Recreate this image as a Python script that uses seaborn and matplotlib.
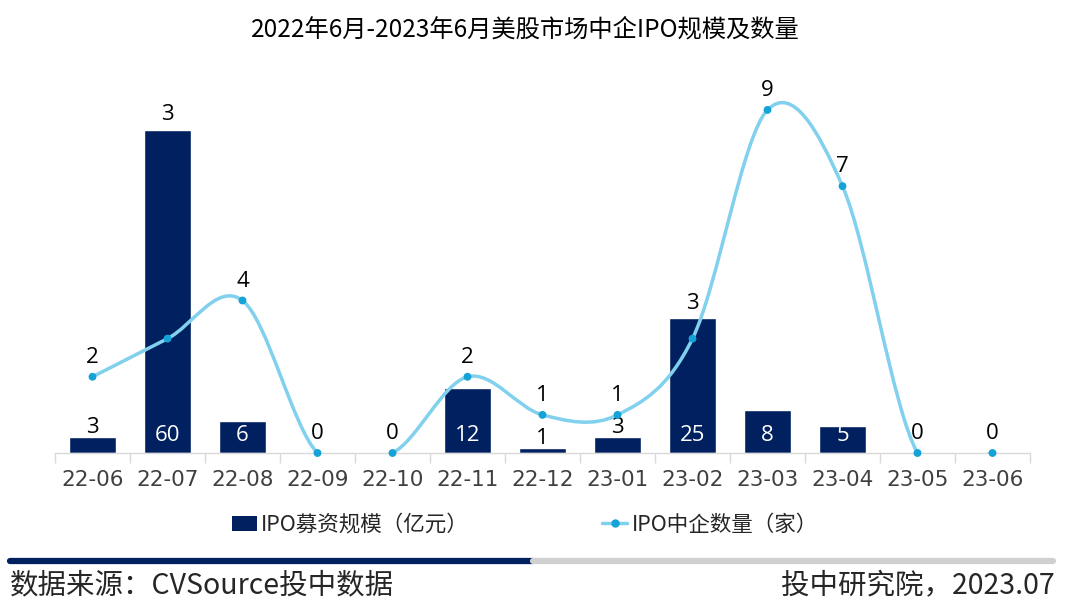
import numpy as np
import pandas as pd
import matplotlib
matplotlib.use("Agg")
import matplotlib.pyplot as plt
import seaborn as sns
from matplotlib.path import Path
from matplotlib.patches import PathPatch, Patch
from matplotlib.lines import Line2D

# 数据
months = ["22-06", "22-07", "22-08", "22-09", "22-10", "22-11", "22-12",
          "23-01", "23-02", "23-03", "23-04", "23-05", "23-06"]
funds = [3, 60, 6, 0, 0, 12, 1, 3, 25, 8, 5, 0, 0]     # IPO募资规模（亿元）
counts = [2, 3, 4, 0, 0, 2, 1, 1, 3, 9, 7, 0, 0]       # IPO中企数量（家）

title = "2022年6月-2023年6月美股市场中企IPO规模及数量"
bar_name = "IPO募资规模（亿元）"
line_name = "IPO中企数量（家）"
source_txt = "数据来源：CVSource投中数据"
credit_txt = "投中研究院，2023.07"

navy = "#002060"
line_c = "#80d0ee"
dot_c = "#15a2d6"
grey = "#d9d9d9"

sns.set_theme(style="white")
plt.rcParams["font.family"] = ["Noto Sans CJK SC", "DejaVu Sans"]

df = pd.DataFrame({"月份": months, "规模": funds, "数量": counts})

fig = plt.figure(figsize=(10.8, 6.06), dpi=100)
ax = fig.add_axes([55 / 1080, 1 - 453 / 606, 975 / 1080, 353 / 606])

sns.barplot(data=df, x="月份", y="规模", color=navy, saturation=1, width=0.63, ax=ax)
y1max = 65.6
ax.set_ylim(0, y1max)
ax.set_xlim(-0.5, len(months) - 0.5)

ax2 = ax.twinx()
y2max = 9.26
ax2.set_ylim(0, y2max)

# 平滑曲线 (Catmull-Rom -> Bezier)
pts = np.column_stack([np.arange(len(counts)), np.array(counts, dtype=float)])
verts = [pts[0]]
codes = [Path.MOVETO]
n = len(pts)
for i in range(n - 1):
    p0 = pts[max(i - 1, 0)]
    p1 = pts[i]
    p2 = pts[i + 1]
    p3 = pts[min(i + 2, n - 1)]
    verts += [p1 + (p2 - p0) / 6, p2 - (p3 - p1) / 6, p2]
    codes += [Path.CURVE4] * 3
curve = PathPatch(Path(verts, codes), facecolor="none", edgecolor=line_c, lw=2.5, zorder=3)
ax2.add_patch(curve)

sns.scatterplot(x=pts[:, 0], y=pts[:, 1], color=dot_c, s=32, edgecolor="none", ax=ax2, zorder=4)
ax2.collections[-1].set_clip_on(False)

# 柱子标签
for i, v in enumerate(funds):
    if v <= 0:
        continue
    if v >= 5:
        ax.annotate(str(v), (i, 0), xytext=(0, 12.5), textcoords="offset points",
                    ha="center", va="center", color="white", fontsize=16, family="Open Sans")
    else:
        ax.annotate(str(v), (i, v), xytext=(0, -1), textcoords="offset points",
                    ha="center", va="bottom", color="black", fontsize=16, family="Open Sans")

# 折线标签
for i, c in enumerate(counts):
    bar_top = funds[i] * y2max / y1max
    off = 11 if bar_top > c else 14
    y = max(c, bar_top)
    ax2.annotate(str(c), (i, y), xytext=(0, off), textcoords="offset points",
                 ha="center", va="center", color="black", fontsize=16, family="Open Sans")

# 坐标轴
for a in (ax, ax2):
    for s in ["top", "right", "left"]:
        a.spines[s].set_visible(False)
    a.set_ylabel("")
    a.set_yticks([])
ax2.spines["bottom"].set_visible(False)
ax.spines["bottom"].set_color(grey)
ax.spines["bottom"].set_linewidth(1)
ax.set_xlabel("")
ax.set_xticks(np.arange(-0.5, len(months), 1), minor=True)
ax.tick_params(axis="x", which="minor", length=7, color=grey, width=1, bottom=True)
ax.tick_params(axis="x", which="major", length=0, pad=12, labelsize=15.5, labelcolor="#404040",
               labelfontfamily="DejaVu Sans")

# 标题
fig.text(525 / 1080, 1 - 30 / 606, title, ha="center", va="center", fontsize=17.5, color="black")

# 图例
handles = [Patch(facecolor=navy, edgecolor="none"),
           Line2D([0], [0], color=line_c, lw=2.5, marker="o", markersize=5,
                  markerfacecolor=dot_c, markeredgecolor=dot_c)]
fig.legend(handles, [bar_name, line_name], loc="center", bbox_to_anchor=(525 / 1080, 1 - 525 / 606),
           ncol=2, frameon=False, fontsize=15.5, columnspacing=6.2, handlelength=1.15,
           handletextpad=0.2)

# 底部装饰线与来源
yl = 1 - 561 / 606
fig.add_artist(Line2D([10 / 1080, 533 / 1080], [yl, yl], transform=fig.transFigure, color=navy, lw=4.5))
fig.add_artist(Line2D([533 / 1080, 1053 / 1080], [yl, yl], transform=fig.transFigure, color="#d0d0d0", lw=4.5))
fig.text(10 / 1080, 1 - 585 / 606, source_txt, ha="left", va="center", fontsize=20.5, color="#262626")
fig.text(1055 / 1080, 1 - 585 / 606, credit_txt, ha="right", va="center", fontsize=20.5, color="#262626")

fig.savefig("out.png", dpi=100)
